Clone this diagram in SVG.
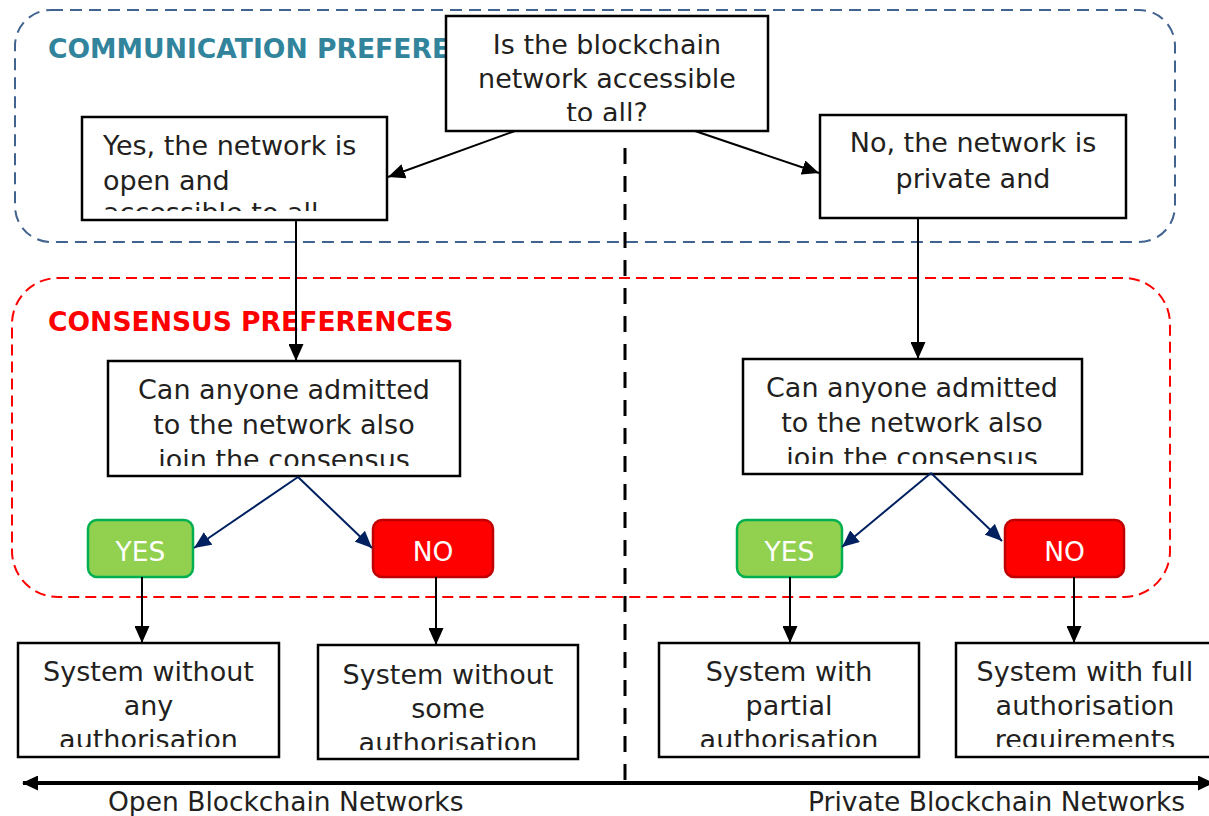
<svg xmlns="http://www.w3.org/2000/svg" width="1209" height="816" viewBox="0 0 1209 816">
<style>
.t{font-family:"DejaVu Sans",Verdana,sans-serif;font-size:27px;fill:#231f20}
.ax{font-family:"DejaVu Sans",Verdana,sans-serif;font-size:26.5px;fill:#231f20}
.c{text-anchor:middle}
.title{font-family:"DejaVu Sans",Verdana,sans-serif;font-size:26.6px;font-weight:bold}
.box{fill:#fff;stroke:#000;stroke-width:2.5}
.yn{font-family:"DejaVu Sans",Verdana,sans-serif;font-size:26.5px;fill:#fff;text-anchor:middle}
.k{stroke:#000;stroke-width:2;fill:none}
.nv{stroke:#002060;stroke-width:2;fill:none}
</style>
<defs>
<marker id="arrowK" viewBox="0 0 17 15" refX="17" refY="7.5" markerWidth="17" markerHeight="15" markerUnits="userSpaceOnUse" orient="auto">
<path d="M0,0 L17,7.5 L0,15 z" fill="#000"/>
</marker>
<marker id="arrowN" viewBox="0 0 17 15" refX="17" refY="7.5" markerWidth="17" markerHeight="15" markerUnits="userSpaceOnUse" orient="auto">
<path d="M0,0 L17,7.5 L0,15 z" fill="#002060"/>
</marker>
<marker id="arrowB" viewBox="0 0 16 15" refX="15" refY="7.5" markerWidth="16" markerHeight="15" markerUnits="userSpaceOnUse" orient="auto-start-reverse">
<path d="M0,0 L16,7.5 L0,15 z" fill="#000"/>
</marker>
<clipPath id="cTitle"><rect x="0" y="0" width="445" height="100"/></clipPath>
<clipPath id="cTop"><rect x="446" y="16" width="322" height="105"/></clipPath>
<clipPath id="cYes"><rect x="82" y="117" width="305" height="94"/></clipPath>
<clipPath id="cNo"><rect x="820" y="115" width="306" height="94"/></clipPath>
<clipPath id="cCanL"><rect x="108" y="361" width="352" height="105"/></clipPath>
<clipPath id="cCanR"><rect x="743" y="359" width="339" height="105"/></clipPath>
<clipPath id="cB1"><rect x="18" y="643" width="261" height="104"/></clipPath>
<clipPath id="cB2"><rect x="318" y="645" width="260" height="105"/></clipPath>
<clipPath id="cB3"><rect x="659" y="643" width="260" height="104"/></clipPath>
<clipPath id="cB4"><rect x="956" y="643" width="260" height="104"/></clipPath>
</defs>

<g id="communication-preferences">
<rect x="15" y="10" width="1160" height="232" rx="36" fill="none" stroke="#41638f" stroke-width="2" stroke-dasharray="12 7"/>
<text class="title" x="48" y="58" fill="#31849b" clip-path="url(#cTitle)">COMMUNICATION PREFERENCES</text>
</g>
<g id="consensus-preferences">
<rect x="12" y="278" width="1158" height="319" rx="46" fill="none" stroke="#ff0000" stroke-width="2" stroke-dasharray="11 6"/>
<text class="title" x="48" y="331" fill="#ff0000">CONSENSUS PREFERENCES</text>
</g>

<g id="divider">
<line x1="625" y1="148" x2="625" y2="780" stroke="#000" stroke-width="3" stroke-dasharray="16 12"/>
</g>

<g id="q-accessible">
<rect class="box" x="446" y="16" width="322" height="115"/>
<g clip-path="url(#cTop)">
<text class="t c" x="607" y="54">Is the blockchain</text>
<text class="t c" x="607" y="88">network accessible</text>
<text class="t c" x="607" y="122">to all?</text>
</g>
</g>

<g id="yes-open">
<rect class="box" x="82" y="117" width="305" height="103"/>
<g clip-path="url(#cYes)">
<text class="t" x="103" y="155">Yes, the network is</text>
<text class="t" x="103" y="190">open and</text>
<text class="t" x="103" y="222">accessible to all</text>
</g>
</g>

<g id="no-private">
<rect class="box" x="820" y="115" width="306" height="103"/>
<g clip-path="url(#cNo)">
<text class="t c" x="973" y="152">No, the network is</text>
<text class="t c" x="973" y="188">private and</text>
</g>
</g>

<g id="q-consensus-left">
<rect class="box" x="108" y="361" width="352" height="115"/>
<g clip-path="url(#cCanL)">
<text class="t c" x="284" y="399">Can anyone admitted</text>
<text class="t c" x="284" y="434">to the network also</text>
<text class="t c" x="284" y="469">join the consensus</text>
</g>
</g>

<g id="q-consensus-right">
<rect class="box" x="743" y="359" width="339" height="115"/>
<g clip-path="url(#cCanR)">
<text class="t c" x="912" y="397">Can anyone admitted</text>
<text class="t c" x="912" y="432">to the network also</text>
<text class="t c" x="912" y="467">join the consensus</text>
</g>
</g>

<g id="yes-left">
<rect x="88" y="520" width="105" height="57" rx="9" fill="#92d050" stroke="#00b050" stroke-width="2.5"/>
<text class="yn" x="140.5" y="561">YES</text>
</g>
<g id="no-left">
<rect x="373" y="520" width="120" height="57" rx="9" fill="#ff0000" stroke="#c00000" stroke-width="2.5"/>
<text class="yn" x="433" y="561">NO</text>
</g>
<g id="yes-right">
<rect x="737" y="520" width="105" height="57" rx="9" fill="#92d050" stroke="#00b050" stroke-width="2.5"/>
<text class="yn" x="789.5" y="561">YES</text>
</g>
<g id="no-right">
<rect x="1005" y="520" width="119" height="57" rx="9" fill="#ff0000" stroke="#c00000" stroke-width="2.5"/>
<text class="yn" x="1064.5" y="561">NO</text>
</g>

<g id="sys-no-auth">
<rect class="box" x="18" y="643" width="261" height="114" stroke-width="2"/>
<g clip-path="url(#cB1)">
<text class="t c" x="148.5" y="681">System without</text>
<text class="t c" x="148.5" y="715">any</text>
<text class="t c" x="148.5" y="749">authorisation</text>
</g>
</g>
<g id="sys-some-auth">
<rect class="box" x="318" y="645" width="260" height="114" stroke-width="2"/>
<g clip-path="url(#cB2)">
<text class="t c" x="448" y="684">System without</text>
<text class="t c" x="448" y="718">some</text>
<text class="t c" x="448" y="752">authorisation</text>
</g>
</g>
<g id="sys-partial-auth">
<rect class="box" x="659" y="643" width="260" height="114" stroke-width="2"/>
<g clip-path="url(#cB3)">
<text class="t c" x="789" y="681">System with</text>
<text class="t c" x="789" y="715">partial</text>
<text class="t c" x="789" y="749">authorisation</text>
</g>
</g>
<g id="sys-full-auth">
<rect class="box" x="956" y="643" width="262" height="114" stroke-width="2"/>
<g clip-path="url(#cB4)">
<text class="t c" x="1085" y="681">System with full</text>
<text class="t c" x="1085" y="715">authorisation</text>
<text class="t c" x="1085" y="749">requirements</text>
</g>
</g>

<g id="connectors">
<line class="k" x1="515" y1="131" x2="388" y2="177" marker-end="url(#arrowK)"/>
<line class="k" x1="695" y1="131" x2="819" y2="173" marker-end="url(#arrowK)"/>
<line class="k" x1="296" y1="220" x2="296" y2="361" marker-end="url(#arrowK)"/>
<line class="k" x1="918" y1="218" x2="918" y2="359" marker-end="url(#arrowK)"/>
<line class="nv" x1="298" y1="477" x2="194" y2="548" marker-end="url(#arrowN)"/>
<line class="nv" x1="298" y1="477" x2="372" y2="548" marker-end="url(#arrowN)"/>
<line class="nv" x1="931" y1="473" x2="842" y2="547" marker-end="url(#arrowN)"/>
<line class="nv" x1="931" y1="473" x2="1002" y2="541" marker-end="url(#arrowN)"/>
<line class="k" x1="142" y1="577" x2="142" y2="643" marker-end="url(#arrowK)"/>
<line class="k" x1="436" y1="577" x2="436" y2="645" marker-end="url(#arrowK)"/>
<line class="k" x1="790" y1="577" x2="790" y2="643" marker-end="url(#arrowK)"/>
<line class="k" x1="1074" y1="577" x2="1074" y2="643" marker-end="url(#arrowK)"/>
<line x1="23" y1="783" x2="1213" y2="783" stroke="#000" stroke-width="4" marker-start="url(#arrowB)" marker-end="url(#arrowB)"/>
</g>

<g id="axis-labels">
<text class="ax" x="108" y="811">Open Blockchain Networks</text>
<text class="ax" x="808" y="811">Private Blockchain Networks</text>
</g>
</svg>
